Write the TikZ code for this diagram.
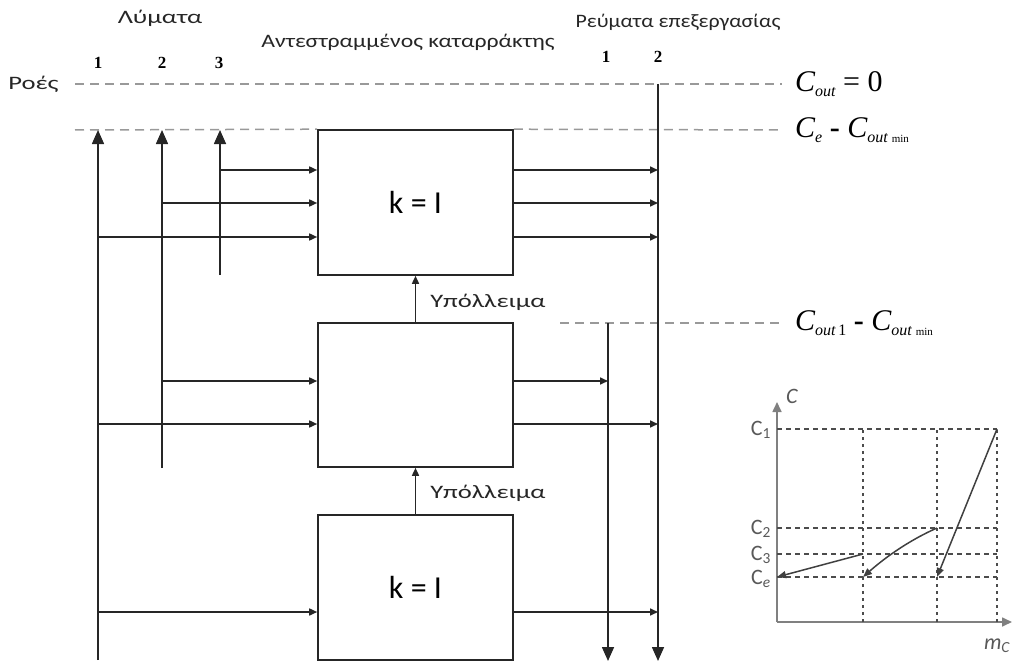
\documentclass[tikz,border=0pt]{standalone}
\usepackage{fontspec}
\setmainfont{Carlito}
\newfontfamily\tnr{Liberation Serif}
\usetikzlibrary{arrows.meta}
\newcommand{\gk}{\fontsize{19}{21}\selectfont}
\newcommand{\Cbig}{\tnr\fontsize{30}{32}\selectfont\itshape}
\newcommand{\Csub}[1]{\raisebox{-5pt}{\tnr\fontsize{16}{16}\selectfont #1}}
\begin{document}
\begin{tikzpicture}[x=1pt,y=-1pt,
  mainln/.style={line width=1.6pt, draw=black!85},
  bigarr/.style={-{Triangle[length=14pt,width=12pt]}},
  smallarr/.style={-{Triangle[length=8pt,width=7pt]}},
  dashln/.style={draw=black!40, line width=1.5pt, dash pattern=on 9pt off 6pt},
  proc/.style={draw=black!85, line width=1.6pt, minimum width=195pt, minimum height=145pt, inner sep=0pt, font=\fontsize{32}{34}\selectfont},
  lbl/.style={font=\gk, text=black!85, inner sep=0pt},
  num/.style={font=\tnr\bfseries\fontsize{17}{17}\selectfont, inner sep=0pt},
  axis/.style={draw=black!50, line width=1.6pt},
  grid/.style={draw=black!70, line width=1.5pt, dash pattern=on 5pt off 4pt},
  vgrid/.style={draw=black!70, line width=1.3pt, dash pattern=on 3pt off 4pt},
  curv/.style={draw=black!75, line width=1.5pt, -{Triangle[length=9pt,width=7pt]}},
  glbl/.style={font=\fontsize{22}{22}\selectfont, text=black!65, inner sep=0pt}
]
\useasboundingbox (0,0) rectangle (1014,666);

% boxes
\node[proc] (b1) at (415.5,202.5) {k = I};
\node[proc, minimum height=144pt] (b2) at (415.5,395) {};
\node[proc] (b3) at (415.5,587.5) {k = I};

% labels
\node[lbl, xscale=1.4] (lym) at (160,18) {Λύματα};
\node[lbl, xscale=1.25] (ant) at (408,42) {Αντεστραμμένος καταρράκτης};
\node[lbl, xscale=1.15] (rev) at (678,22) {Ρεύματα επεξεργασίας};
\node[lbl, anchor=west, xscale=1.4] (roes) at (8,84) {Ροές};
\node[num] (n1) at (98,63) {1};
\node[num] (n2) at (162,63) {2};
\node[num] (n3) at (219,63) {3};
\node[num] (m1) at (606,57) {1};
\node[num] (m2) at (658,57) {2};

% dashed levels
\coordinate (d0l) at (75,84);
\coordinate (d0r) at (782,84);
\coordinate (d1l) at (75,130);
\coordinate (d1r) at (782,130);
\coordinate (d2l) at (560,323);
\coordinate (d2r) at (782,323);
\draw[dashln] (d0l) -- (d0r);
\draw[dashln] (d1l) -- (b1.north west);
\draw[dashln] (b1.north east) -- (d1r);
\draw[dashln] (d2l) -- (d2r);

\node[anchor=west, inner sep=0pt] (c0) at (795,84) {\Cbig C\Csub{out}\upshape\ = 0};
\node[anchor=west, inner sep=0pt] (c1) at (795,130) {\Cbig C\Csub{\itshape e}\upshape\ \textbf{-} \itshape C\Csub{\itshape out \upshape\fontsize{11}{11}\selectfont min}};
\node[anchor=west, inner sep=0pt] (c2) at (795,323) {\Cbig C\Csub{\itshape out\upshape\,1}\upshape\ \textbf{-} \itshape C\Csub{\itshape out \upshape\fontsize{11}{11}\selectfont min}};

% input lines
\coordinate (s1b) at (98,660);
\coordinate (s1t) at (98,130);
\coordinate (s2b) at (162,468);
\coordinate (s2t) at (162,130);
\coordinate (s3b) at (220,275);
\coordinate (s3t) at (220,130);
\draw[mainln, bigarr] (s1b) -- (s1t);
\draw[mainln, bigarr] (s2b) -- (s2t);
\draw[mainln, bigarr] (s3b) -- (s3t);

\coordinate (i13) at (220,170);
\coordinate (i12) at (162,203);
\coordinate (i11) at (98,237);
\coordinate (i22) at (162,381);
\coordinate (i21) at (98,424);
\coordinate (i31) at (98,612);
\foreach \c in {i13,i12,i11,i22,i21,i31}
  \draw[mainln, smallarr] (\c) -- (\c -| b1.west);

% output lines
\coordinate (o2t) at (658,84);
\coordinate (o2b) at (658,661);
\coordinate (o1t) at (608,323);
\coordinate (o1b) at (608,661);
\draw[mainln, bigarr] (o2t) -- (o2b);
\draw[mainln, bigarr] (o1t) -- (o1b);

\foreach \c in {i13,i12,i11,i21,i31}
  \draw[mainln, smallarr] (\c -| b1.east) -- (\c -| o2t);
\draw[mainln, smallarr] (i22 -| b1.east) -- (i22 -| o1t);

% residue arrows
\draw[mainln, smallarr] (b2.north) -- (b1.south);
\draw[mainln, smallarr] (b3.north) -- (b2.south);
\node[lbl, anchor=west, xscale=1.4] (y1) at (430,302) {Υπόλλειμα};
\node[lbl, anchor=west, xscale=1.4] (y2) at (430,493) {Υπόλλειμα};

% small graph
\coordinate (O) at (777,622);
\coordinate (Yt) at (777,402);
\coordinate (Xr) at (1012,622);
\draw[axis, -{Triangle[length=10pt,width=9pt]}] (O) -- (Yt);
\draw[axis, -{Triangle[length=10pt,width=9pt]}] (O) -- (Xr);
\coordinate (gC1) at (777,429);
\coordinate (gC2) at (777,528);
\coordinate (gC3) at (777,554);
\coordinate (gCe) at (777,577);
\coordinate (gx1) at (863,622);
\coordinate (gx2) at (937,622);
\coordinate (gx3) at (997,622);
\foreach \c in {gC1,gC2,gC3,gCe}
  \draw[grid] (\c) -- (\c -| gx3);
\foreach \c in {gx1,gx2,gx3}
  \draw[vgrid] (\c) -- (\c |- gC1);
\draw[curv] (gx3 |- gC1) -- (gx2 |- gCe);
\draw[curv] (gx2 |- gC2) .. controls (912,539) and (888,555) .. (gx1 |- gCe);
\draw[curv] (gx1 |- gC3) -- (gCe);

\node[glbl, anchor=east] (l1) at (771,430) {C\textsubscript{1}};
\node[glbl, anchor=east] (l2) at (771,529) {C\textsubscript{2}};
\node[glbl, anchor=east] (l3) at (771,555) {C\textsubscript{3}};
\node[glbl, anchor=east] (le) at (771,579) {C\textsubscript{\itshape e}};
\node[glbl, anchor=west] (lc) at (786,396) {\itshape C};
\node[glbl] (lm) at (997,646) {\itshape m\textsubscript{C}};
\end{tikzpicture}
\end{document}
